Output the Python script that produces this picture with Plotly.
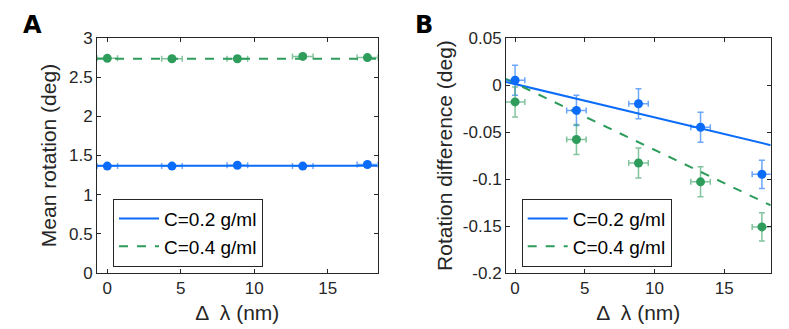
import plotly.graph_objects as go

# x positions (wavelength offset, nm)
dlam = [0, 4.4, 8.85, 13.3, 17.7]
dlam_err = [0.7, 0.7, 0.7, 0.7, 0.7]

# panel A: mean rotation (deg)
mean_c02 = [1.365, 1.365, 1.375, 1.365, 1.385]
mean_c04 = [2.74, 2.735, 2.735, 2.765, 2.75]
mean_err = [0.012, 0.012, 0.012, 0.012, 0.012]
fitA_x = [-0.7, 18.4]
fitA_c02 = [1.37, 1.37]
fitA_c04 = [2.735, 2.735]

# panel B: rotation difference (deg)
diff_c02 = [0.005, -0.027, -0.020, -0.045, -0.095]
diff_c04 = [-0.018, -0.058, -0.083, -0.103, -0.151]
diff_err = [0.016, 0.016, 0.016, 0.016, 0.015]
fitB_x = [-0.65, 18.33]
fitB_c02 = [0.0033, -0.064]
fitB_c04 = [0.0064, -0.128]

BLUE = "#0a6cf8"
GREEN = "#2e9d5c"
BLUE_ERR = "rgba(10,108,248,0.6)"
GREEN_ERR = "rgba(46,157,92,0.6)"
AX = "#262626"
FONT = "Liberation Sans, Arial, sans-serif"

# page body has an 8px margin, so the figure is laid out in a 781x321 box
W, H, OFF = 781, 321, 8


def fx(px):
    return (px - OFF) / W


def fy(px):
    return 1 - (px - OFF) / H


fig = go.Figure()


def add_panel(xa, ya, fitx, f1, f2, y1, y2, yerr, legend):
    fig.add_trace(go.Scatter(x=fitx, y=f1, mode="lines", xaxis=xa, yaxis=ya,
                             line=dict(color=BLUE, width=2),
                             name="C=0.2 g/ml", legend=legend))
    fig.add_trace(go.Scatter(x=fitx, y=f2, mode="lines", xaxis=xa, yaxis=ya,
                             line=dict(color=GREEN, width=2, dash="dash"),
                             name="C=0.4 g/ml", legend=legend))
    for y, col, ecol in [(y1, BLUE, BLUE_ERR), (y2, GREEN, GREEN_ERR)]:
        fig.add_trace(go.Scatter(
            x=dlam, y=y, mode="markers", xaxis=xa, yaxis=ya,
            marker=dict(color=col, size=9),
            error_x=dict(type="data", array=dlam_err, color=ecol, thickness=1.5, width=3),
            error_y=dict(type="data", array=yerr, color=ecol, thickness=1.5, width=3),
            showlegend=False))


add_panel("x", "y", fitA_x, fitA_c02, fitA_c04, mean_c02, mean_c04, mean_err, "legend")
add_panel("x2", "y2", fitB_x, fitB_c02, fitB_c04, diff_c02, diff_c04, diff_err, "legend2")

axis_common = dict(showline=True, mirror="ticks", linecolor=AX, linewidth=1,
                   ticks="inside", ticklen=4, tickcolor=AX, showgrid=False,
                   zeroline=False, automargin=False,
                   tickfont=dict(size=17, color=AX, family=FONT),
                   title_font=dict(size=21, color=AX, family=FONT))

legend_common = dict(xanchor="left", yanchor="top", bgcolor="white",
                     bordercolor=AX, borderwidth=1,
                     font=dict(size=19, color="black", family=FONT),
                     tracegroupgap=0, itemwidth=40)

ydom = [fy(273), fy(38)]

fig.update_layout(
    width=W, height=H,
    margin=dict(l=0, r=0, t=0, b=0),
    paper_bgcolor="white", plot_bgcolor="white",
    font=dict(family=FONT, color=AX),
    xaxis=dict(domain=[fx(97), fx(377.7)], range=fitA_x, tickvals=[0, 5, 10, 15],
               title=dict(text="Δ  λ (nm)", standoff=7), anchor="y", **axis_common),
    yaxis=dict(domain=ydom, range=[0, 3], tickvals=[0, 0.5, 1, 1.5, 2, 2.5, 3],
               ticktext=["0", "0.5", "1", "1.5", "2", "2.5", "3"],
               title=dict(text="Mean rotation (deg)", standoff=6), anchor="x", **axis_common),
    xaxis2=dict(domain=[fx(506), fx(770.7)], range=fitB_x, tickvals=[0, 5, 10, 15],
                title=dict(text="Δ  λ (nm)", standoff=7), anchor="y2", **axis_common),
    yaxis2=dict(domain=ydom, range=[-0.2, 0.05],
                tickvals=[-0.2, -0.15, -0.1, -0.05, 0, 0.05],
                ticktext=["-0.2", "-0.15", "-0.1", "-0.05", "0", "0.05"],
                title=dict(text="Rotation difference (deg)", standoff=4), anchor="x2",
                **axis_common),
    legend=dict(x=fx(113), y=fy(198.7), **legend_common),
    legend2=dict(x=fx(521.7), y=fy(198.7), **legend_common),
    annotations=[
        dict(text="<b>A</b>", x=fx(21), y=fy(9), xref="paper", yref="paper",
             xanchor="left", yanchor="top", showarrow=False,
             font=dict(size=24, color="black", family="DejaVu Sans, sans-serif")),
        dict(text="<b>B</b>", x=fx(413), y=fy(9), xref="paper", yref="paper",
             xanchor="left", yanchor="top", showarrow=False,
             font=dict(size=24, color="black", family="DejaVu Sans, sans-serif")),
    ],
)

fig.write_html("out.html")
